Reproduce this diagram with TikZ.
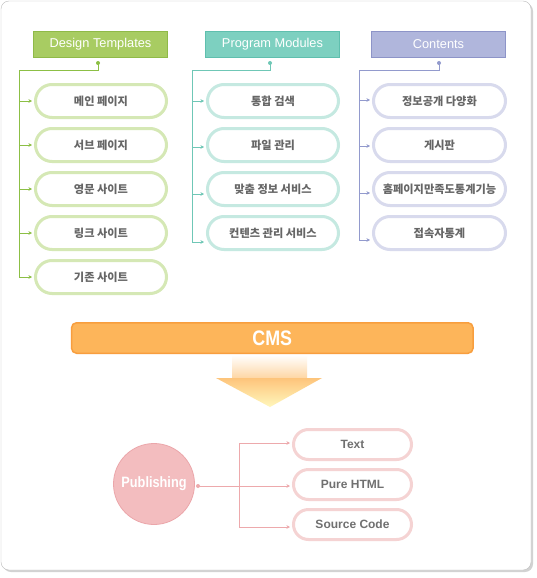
\documentclass[tikz,border=0pt]{standalone}
\usepackage{fontspec}
\setmainfont{Liberation Sans}
\newfontfamily\kr{Noto Sans CJK KR}
\newfontfamily\narrowb[FakeStretch=0.85]{Liberation Sans}
\usetikzlibrary{arrows.meta,shapes.misc}
\definecolor{framegray}{HTML}{BDBDBD}
\definecolor{shadowgray}{HTML}{D2D2D2}
\definecolor{txtgray}{HTML}{666666}
\definecolor{latgray}{HTML}{707070}
\definecolor{gfill}{HTML}{A8CC62}
\definecolor{gborder}{HTML}{8FBA48}
\definecolor{gpill}{HTML}{D5E8B5}
\definecolor{gline}{HTML}{8CBF45}
\definecolor{tfill}{HTML}{7DD0C0}
\definecolor{tborder}{HTML}{5FBFAE}
\definecolor{tpill}{HTML}{C5E9E1}
\definecolor{tline}{HTML}{6FC7B6}
\definecolor{vfill}{HTML}{B0B6DC}
\definecolor{vborder}{HTML}{8D94C8}
\definecolor{vpill}{HTML}{D8DAED}
\definecolor{vline}{HTML}{929ACD}
\definecolor{ppill}{HTML}{F5D3D3}
\definecolor{pline}{HTML}{EDA9AC}
\definecolor{pubfill}{HTML}{F3BDBF}
\definecolor{pubborder}{HTML}{EBA6AA}
\definecolor{cmsfill}{HTML}{FDB55A}
\definecolor{cmsborder}{HTML}{F89E3E}
\begin{document}
\begin{tikzpicture}[x=1pt,y=-1pt,
  hdr/.style={minimum width=134pt, minimum height=26pt, line width=1pt, text=white, inner sep=0pt, font=\fontsize{12.8}{14}\selectfont},
  pill/.style={rounded rectangle, draw, line width=3pt, fill=white, minimum width=131pt, minimum height=33pt, inner sep=0pt, text=txtgray, font=\kr\bfseries\fontsize{11.2}{13}\selectfont},
  opill/.style={rounded rectangle, draw=ppill, line width=3pt, fill=white, minimum width=118pt, minimum height=30pt, inner sep=0pt, text=latgray, font=\bfseries\fontsize{12}{14}\selectfont},
  conn/.style={line width=1pt, -{Stealth[length=3.5pt,width=3.5pt]}, shorten >=2pt},
  trunk/.style={line width=1pt}
]
\useasboundingbox (0,0) rectangle (537,578);
% frame
\fill[shadowgray, rounded corners=8pt] (3,3) rectangle (533,572);
\draw[framegray, fill=white, rounded corners=8pt] (1,1) rectangle (531,570);

% headers
\node[hdr, fill=gfill, draw=gborder] (hA) at (100.5,44.5) {Design Templates};
\node[hdr, fill=tfill, draw=tborder] (hB) at (272.5,44.5) {Program Modules};
\node[hdr, fill=vfill, draw=vborder] (hC) at (438.5,44.5) {Contents};

% design pills
\node[pill, draw=gpill] (g1) at (101,101) {메인 페이지};
\node[pill, draw=gpill] (g2) at (101,145) {서브 페이지};
\node[pill, draw=gpill] (g3) at (101,189) {영문 사이트};
\node[pill, draw=gpill] (g4) at (101,233) {링크 사이트};
\node[pill, draw=gpill] (g5) at (101,277) {기존 사이트};

% program pills
\node[pill, draw=tpill] (p1) at (273,101) {통합 검색};
\node[pill, draw=tpill] (p2) at (273,145) {파일 관리};
\node[pill, draw=tpill] (p3) at (273,189) {맞춤 정보 서비스};
\node[pill, draw=tpill] (p4) at (273,233) {컨텐츠 관리 서비스};

% contents pills
\node[pill, draw=vpill, minimum width=132pt] (c1) at (439.5,101) {정보공개 다양화};
\node[pill, draw=vpill, minimum width=132pt] (c2) at (439.5,145) {게시판};
\node[pill, draw=vpill, minimum width=132pt] (c3) at (439.5,189) {홈페이지만족도통계기능};
\node[pill, draw=vpill, minimum width=132pt] (c4) at (439.5,233) {접속자통계};

% design connectors
\coordinate (dA) at (98,63);
\coordinate (tA) at (19,71);
\fill[gline] (dA) circle (2);
\draw[trunk, gline] (dA) |- (tA);
\draw[conn, gline] (tA) -- (tA |- g5.west) -- (g5.west);
\foreach \n in {g1,g2,g3,g4}{\draw[conn, gline] (tA |- \n.west) -- (\n.west);}

% program connectors
\coordinate (dB) at (270,63);
\coordinate (tB) at (192,71);
\coordinate (ap1) at (p1.west);
\coordinate (ap2) at ([yshift=-2pt]p2.west);
\coordinate (ap3) at ([yshift=-5pt]p3.west);
\coordinate (ap4) at ([yshift=-9pt]p4.west);
\fill[tline] (dB) circle (2);
\draw[trunk, tline] (dB) |- (tB);
\draw[conn, tline] (tB) -- (tB |- ap4) -- (ap4);
\foreach \n in {ap1,ap2,ap3}{\draw[conn, tline] (tB |- \n) -- (\n);}

% contents connectors
\coordinate (dC) at (439,63);
\coordinate (tC) at (359,71);
\coordinate (ac1) at ([yshift=1pt]c1.west);
\coordinate (ac2) at ([yshift=-1pt]c2.west);
\coordinate (ac3) at ([yshift=-4pt]c3.west);
\coordinate (ac4) at ([yshift=-7pt]c4.west);
\fill[vline] (dC) circle (2);
\draw[trunk, vline] (dC) |- (tC);
\draw[conn, vline] (tC) -- (tC |- ac4) -- (ac4);
\foreach \n in {ac1,ac2,ac3}{\draw[conn, vline] (tC |- \n) -- (\n);}

% CMS bar
\node[draw=cmsborder, fill=cmsfill, line width=1.5pt, rounded corners=5pt, minimum width=401.5pt, minimum height=30.5pt, inner sep=0pt, text=white, font=\narrowb\bfseries\fontsize{21}{23}\selectfont] (cms) at (272.3,338) {CMS};

% big arrow
\shade[top color=white, bottom color=cmsfill!55!white] (232,355) rectangle (307,378);
\shade[top color=cmsfill!80!white, bottom color=cmsfill!35!yellow!30!white] (216,378) -- (322,378) -- (270,407) -- cycle;

% publishing
\node[circle, fill=pubfill, draw=pubborder, line width=0.8pt, minimum size=81pt, inner sep=0pt, text=white, font=\narrowb\bfseries\fontsize{15}{17}\selectfont] (pub) at (154,484) {Publishing};

\node[opill] (o1) at (352.5,444.5) {Text};
\node[opill] (o2) at (352.5,484.5) {Pure HTML};
\node[opill] (o3) at (352.5,524.5) {Source Code};

\coordinate (pdot) at (198,486);
\coordinate (tP) at (239,486);
\coordinate (ao1) at ([yshift=1.5pt]o1.west);
\coordinate (ao2) at ([yshift=-1.5pt]o2.west);
\coordinate (ao3) at ([yshift=-2.5pt]o3.west);
\fill[pline] (pdot) circle (2);
\draw[conn, pline] (pdot) -- (ao2);
\draw[conn, pline] (tP |- ao1) -- (ao1);
\draw[trunk, pline] (tP |- ao1) -- (tP |- ao3);
\draw[conn, pline] (tP |- ao3) -- (ao3);
\end{tikzpicture}
\end{document}
